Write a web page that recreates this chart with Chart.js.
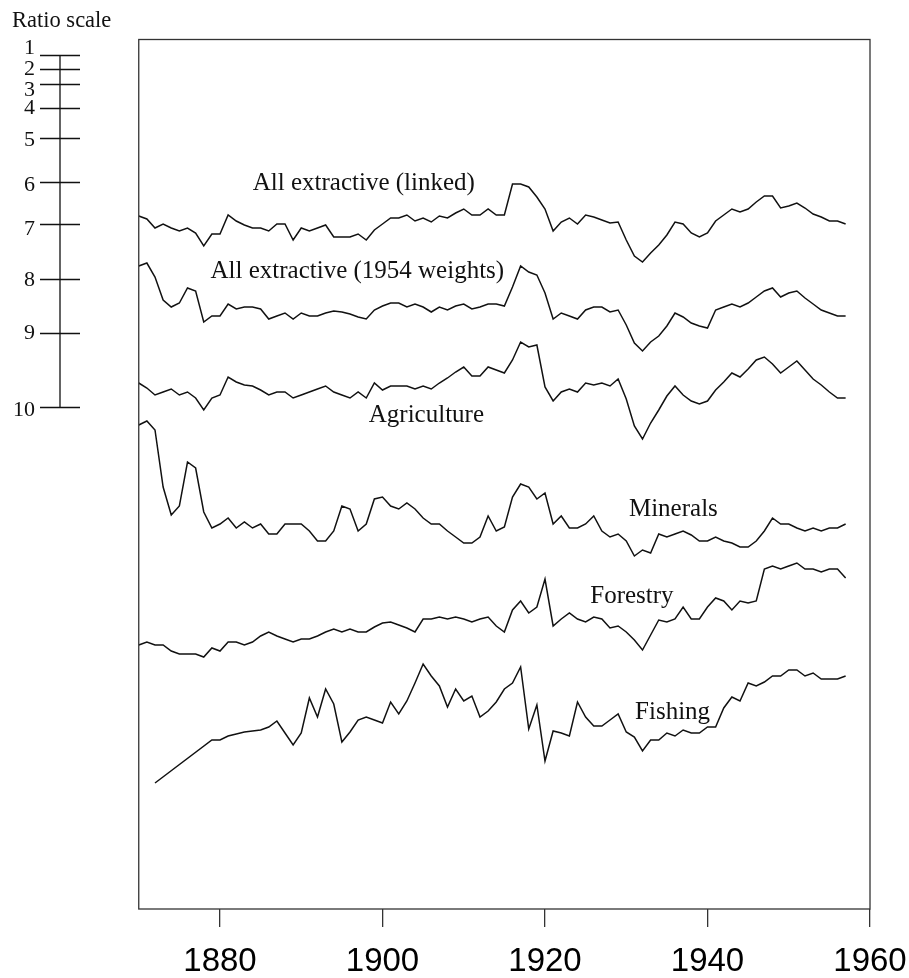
<!DOCTYPE html>
<html>
<head>
<meta charset="utf-8">
<script src="https://cdn.jsdelivr.net/npm/chart.js@4.4.1/dist/chart.umd.min.js"></script>
<style>
  html, body { margin: 0; padding: 0; background: #fff; }
  #wrap { width: 909px; height: 978px; position: relative; }
</style>
</head>
<body>
<div id="wrap"><canvas id="c"></canvas></div>
<script>
// ---- data (relative level, arbitrary ratio-scale units) ----
const YEARS = Array.from({length: 88}, (_, i) => 1870 + i);   // 1870..1957
const X_TICKS = [1880, 1900, 1920, 1940, 1960];

const LINKED = [
  69.3, 69.0, 68.1, 68.5, 68.1, 67.8, 68.1, 67.6, 66.3, 67.5,
  67.5, 69.4, 68.8, 68.4, 68.1, 68.1, 67.8, 68.5, 68.5, 66.9,
  68.1, 67.8, 68.1, 68.4, 67.2, 67.2, 67.2, 67.5, 66.9, 67.9,
  68.5, 69.1, 69.1, 69.4, 68.8, 69.1, 68.7, 69.3, 69.1, 69.6,
  70.0, 69.4, 69.4, 70.0, 69.4, 69.4, 72.5, 72.5, 72.2, 71.2,
  70.0, 67.8, 68.7, 69.1, 68.5, 69.4, 69.2, 68.9, 68.6, 68.7,
  66.9, 65.3, 64.7, 65.6, 66.4, 67.4, 68.7, 68.5, 67.6, 67.2,
  67.6, 68.8, 69.4, 70.0, 69.7, 70.0, 70.7, 71.3, 71.3, 70.1,
  70.3, 70.6, 70.1, 69.5, 69.2, 68.8, 68.8, 68.5
];
const W1954 = [
  64.3, 64.6, 63.2, 60.9, 60.2, 60.6, 62.1, 61.8, 58.7, 59.3,
  59.3, 60.5, 60.0, 60.2, 60.2, 60.0, 59.0, 59.3, 59.6, 59.0,
  59.6, 59.3, 59.3, 59.6, 59.8, 59.7, 59.5, 59.2, 59.0, 59.9,
  60.3, 60.6, 60.6, 60.2, 60.5, 60.2, 59.7, 60.2, 59.9, 60.3,
  60.5, 60.0, 60.2, 60.5, 60.5, 60.3, 62.2, 64.3, 63.7, 63.4,
  61.6, 59.0, 59.6, 59.3, 59.0, 59.9, 60.2, 60.2, 59.7, 59.9,
  58.4, 56.6, 55.8, 56.7, 57.3, 58.3, 59.6, 59.2, 58.6, 58.3,
  58.1, 59.9, 60.2, 60.5, 60.2, 60.6, 61.2, 61.8, 62.1, 61.2,
  61.6, 61.8, 61.1, 60.5, 59.9, 59.6, 59.3, 59.3
];
const AGRICULTURE = [
  52.6, 52.1, 51.4, 51.7, 52.0, 51.4, 51.7, 51.1, 49.9, 51.1,
  51.4, 53.2, 52.7, 52.4, 52.3, 51.9, 51.4, 51.7, 51.7, 51.1,
  51.4, 51.7, 52.0, 52.3, 51.7, 51.4, 51.1, 51.7, 51.1, 52.6,
  51.9, 52.3, 52.3, 52.3, 52.0, 52.3, 52.0, 52.6, 53.1, 53.7,
  54.2, 53.3, 53.3, 54.2, 53.9, 53.6, 54.9, 56.7, 56.2, 56.4,
  52.2, 50.8, 51.7, 52.0, 51.7, 52.6, 52.4, 52.6, 52.3, 53.0,
  51.0, 48.3, 47.0, 48.6, 49.9, 51.3, 52.3, 51.4, 50.8, 50.5,
  50.8, 51.9, 52.7, 53.6, 53.2, 54.0, 54.9, 55.2, 54.5, 53.6,
  54.2, 54.8, 53.9, 53.0, 52.4, 51.7, 51.1, 51.1
];
const MINERALS = [
  48.4, 48.8, 47.9, 42.2, 39.4, 40.3, 44.7, 44.1, 39.7, 38.1,
  38.5, 39.1, 38.1, 38.7, 38.1, 38.5, 37.5, 37.5, 38.5, 38.5,
  38.5, 37.8, 36.8, 36.8, 37.8, 40.3, 40.0, 37.8, 38.5, 41.0,
  41.2, 40.3, 40.0, 40.6, 40.0, 39.1, 38.5, 38.5, 37.8, 37.2,
  36.6, 36.6, 37.2, 39.3, 37.8, 38.2, 41.2, 42.5, 42.2, 41.0,
  41.6, 38.5, 39.3, 38.1, 38.1, 38.5, 39.3, 37.8, 37.2, 37.5,
  36.8, 35.3, 35.9, 35.6, 37.5, 37.2, 37.5, 37.8, 37.4, 36.8,
  36.8, 37.2, 36.8, 36.6, 36.2, 36.2, 36.8, 37.8, 39.1, 38.5,
  38.5, 38.1, 37.8, 38.1, 37.8, 38.1, 38.1, 38.5
];
const FORESTRY = [
  26.4, 26.7, 26.4, 26.4, 25.8, 25.5, 25.5, 25.5, 25.2, 26.1,
  25.8, 26.7, 26.7, 26.4, 26.7, 27.3, 27.7, 27.3, 27.0, 26.7,
  27.0, 27.0, 27.3, 27.7, 28.0, 27.7, 28.0, 27.7, 27.7, 28.2,
  28.6, 28.7, 28.4, 28.1, 27.7, 29.0, 29.0, 29.2, 29.0, 29.2,
  29.0, 28.7, 29.0, 29.2, 28.3, 27.7, 29.9, 30.8, 29.6, 30.2,
  33.0, 28.3, 29.0, 29.6, 29.0, 28.7, 29.2, 29.0, 28.1, 28.3,
  27.7, 26.9, 25.9, 27.4, 28.9, 28.7, 29.0, 30.2, 29.0, 29.0,
  30.2, 31.1, 30.8, 29.9, 30.8, 30.6, 30.8, 34.0, 34.3, 34.0,
  34.3, 34.6, 34.0, 34.0, 33.7, 34.0, 34.0, 33.1
];
const FISHING = [
  null, null, 12.6, null, null, null, null, null, null, 16.9,
  16.9, 17.3, 17.5, 17.7, 17.8, 17.9, 18.2, 18.8, 17.6, 16.4,
  17.6, 21.1, 19.2, 22.0, 20.5, 16.7, 17.7, 18.9, 19.2, 18.9,
  18.6, 20.7, 19.5, 20.8, 22.6, 24.5, 23.3, 22.3, 20.2, 22.0,
  20.8, 21.3, 19.2, 19.8, 20.7, 22.0, 22.6, 24.2, 18.0, 20.4,
  14.8, 17.8, 17.6, 17.3, 20.7, 19.2, 18.3, 18.3, 18.9, 19.5,
  17.7, 17.2, 15.8, 16.9, 16.9, 17.6, 17.3, 17.9, 17.6, 17.6,
  18.2, 18.2, 20.1, 21.2, 20.8, 22.6, 22.3, 22.7, 23.3, 23.3,
  23.9, 23.9, 23.3, 23.6, 23.0, 23.0, 23.0, 23.3
];

// ratio-scale ruler: labels and their levels on the same vertical scale
const RATIO_LABELS = ['1', '2', '3', '4', '5', '6', '7', '8', '9', '10'];
const RATIO_LEVELS = [85.4, 84.0, 82.5, 80.1, 77.1, 72.7, 68.5, 63.0, 57.6, 50.2];

// series names and where their labels sit (year, level)
const SERIES_NAMES = ['All extractive (linked)', 'All extractive (1954 weights)', 'Agriculture', 'Minerals', 'Forestry', 'Fishing'];
const LABEL_YEARS  = [1897.7, 1896.9, 1905.4, 1935.8, 1930.7, 1935.7];
const LABEL_LEVELS = [72.6, 63.8, 49.4, 40.0, 31.3, 19.7];

const SERIES = [LINKED, W1954, AGRICULTURE, MINERALS, FORESTRY, FISHING];

// ---- chart ----
const INK = '#111';
const FRAME = '#333';
const SERIF = '"Liberation Serif", "Times New Roman", serif';
const SANS = '"Liberation Sans", Arial, sans-serif';

const decor = {
  id: 'decor',
  afterDraw(chart) {
    const ctx = chart.ctx;
    const a = chart.chartArea;
    const xs = chart.scales.x, ys = chart.scales.y;
    ctx.save();
    // frame
    ctx.strokeStyle = FRAME;
    ctx.lineWidth = 1.3;
    ctx.strokeRect(a.left, a.top, a.right - a.left, a.bottom - a.top);

    // series labels
    ctx.fillStyle = INK;
    ctx.font = '25px ' + SERIF;
    ctx.textAlign = 'center';
    ctx.textBaseline = 'middle';
    SERIES_NAMES.forEach((n, i) => {
      ctx.fillText(n, xs.getPixelForValue(LABEL_YEARS[i]), ys.getPixelForValue(LABEL_LEVELS[i]));
    });

    // ratio scale ruler
    const rx = 60, half = 20;
    ctx.strokeStyle = INK;
    ctx.lineWidth = 1.3;
    const yTop = ys.getPixelForValue(RATIO_LEVELS[0]);
    const yBot = ys.getPixelForValue(RATIO_LEVELS[RATIO_LEVELS.length - 1]);
    ctx.beginPath();
    ctx.moveTo(rx, yTop); ctx.lineTo(rx, yBot);
    RATIO_LEVELS.forEach(v => {
      const py = Math.round(ys.getPixelForValue(v)) + 0.5;
      ctx.moveTo(rx - half, py); ctx.lineTo(rx + half, py);
    });
    ctx.stroke();
    ctx.font = '22px ' + SERIF;
    ctx.textAlign = 'right';
    ctx.textBaseline = 'middle';
    const nudge = [-7, 0, 6, 0, 2, 3, 5, 1, 0, 3];
    RATIO_LABELS.forEach((t, i) => {
      ctx.fillText(t, 35, ys.getPixelForValue(RATIO_LEVELS[i]) + nudge[i]);
    });
    ctx.textAlign = 'left';
    ctx.textBaseline = 'alphabetic';
    ctx.font = '22.5px ' + SERIF;
    ctx.fillText('Ratio scale', 12, 27);
    ctx.restore();
  }
};

new Chart(document.getElementById('c'), {
  type: 'line',
  data: {
    datasets: SERIES.map((s, i) => ({
      label: SERIES_NAMES[i],
      data: YEARS.map((yr, j) => ({x: yr, y: s[j]})),
      borderColor: INK,
      borderWidth: 1.5,
      pointRadius: 0,
      tension: 0,
      fill: false,
      spanGaps: true
    }))
  },
  options: {
    responsive: true,
    maintainAspectRatio: false,
    animation: false,
    events: [],
    layout: { padding: { left: 138.75, right: 39, top: 39.5, bottom: 0 } },
    plugins: { legend: { display: false }, tooltip: { enabled: false }, title: { display: false } },
    scales: {
      x: {
        type: 'linear',
        min: 1870, max: 1960,
        afterBuildTicks: sc => { sc.ticks = X_TICKS.map(v => ({value: v})); },
        afterFit: sc => { sc.paddingLeft = 0; sc.paddingRight = 0; sc.height = 69; },
        border: { display: false },
        grid: { drawOnChartArea: false, drawTicks: true, tickLength: 18, color: FRAME, lineWidth: 1.3 },
        ticks: {
          padding: 18,
          color: '#000',
          maxRotation: 0,
          autoSkip: false,
          font: { family: SANS, size: 33, lineHeight: 1.0 },
          callback: v => String(v)
        }
      },
      y: {
        type: 'linear',
        min: 0, max: 86.95,
        display: false
      }
    }
  },
  plugins: [decor]
});
</script>
</body>
</html>
